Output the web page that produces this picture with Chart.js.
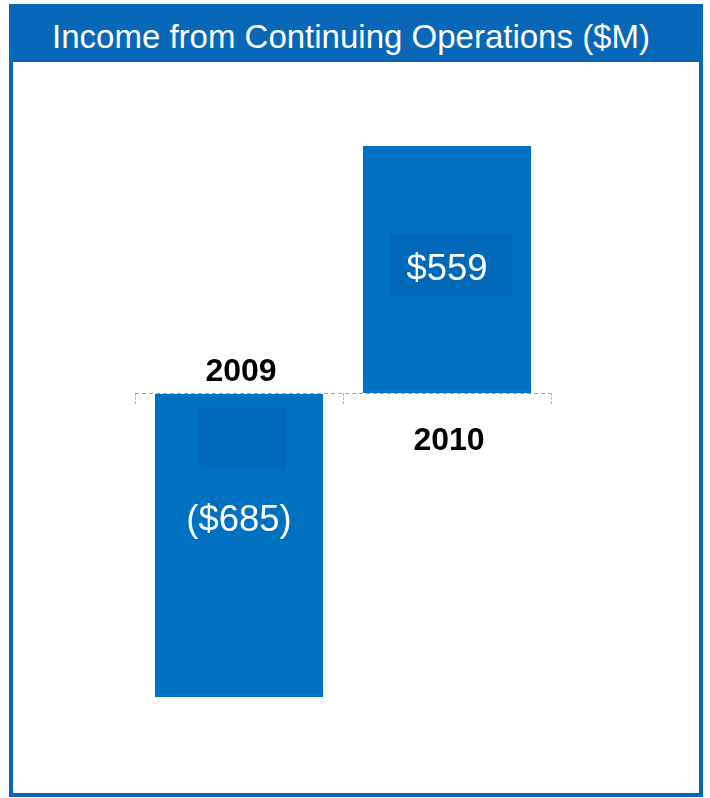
<!DOCTYPE html>
<html>
<head>
<meta charset="utf-8">
<script src="https://cdn.jsdelivr.net/npm/chart.js@4"></script>
<style>
  body { margin: 0; background: #fff; font-family: "Liberation Sans", Arial, sans-serif; }
  #wrap { position: relative; width: 710px; height: 798px; }
  #myChart { position: absolute; left: 0; top: 0; }
  #frame {
    position: absolute; left: 9px; top: 4px; width: 686px; height: 785px;
    border: 4px solid #0b67b4; pointer-events: none;
  }
  #title {
    position: absolute; left: -4px; top: -4px; width: 694px; height: 58px;
    background: #0868b7; color: #fff; font-size: 33px; line-height: 66px; text-align: center;
    text-indent: -10px; overflow: hidden;
  }
</style>
</head>
<body>
<div id="wrap">
  <canvas id="myChart" width="710" height="798"></canvas>
  <div id="frame"><div id="title">Income from Continuing Operations ($M)</div></div>
</div>
<script>
// chart data
var years = ['2009', '2010'];
var income = [-685, 559];
var valueLabels = ['($685)', '$559'];

var barColor = '#0070c0';

// draws the year labels, value labels and the little marks on the zero line
var labelPlugin = {
    id: 'labels',
    afterDatasetsDraw: function (chart) {
        var c = chart.ctx;
        var x = chart.scales.x;
        var y = chart.scales.y;
        var zero = y.getPixelForValue(0);
        var bars = chart.getDatasetMeta(0).data;

        c.save();
        // small vertical marks
        c.strokeStyle = '#a0a0a0';
        c.lineWidth = 1;
        c.setLineDash([2, 2]);
        var marks = [x.left, (x.getPixelForValue(0) + x.getPixelForValue(1)) / 2, x.right];
        marks.forEach(function (m) {
            c.beginPath();
            c.moveTo(Math.round(m) + 0.5, zero);
            c.lineTo(Math.round(m) + 0.5, zero + 10);
            c.stroke();
        });
        c.setLineDash([]);

        bars.forEach(function (bar, i) {
            var down = income[i] < 0;
            // faint darker patch inside the bar
            c.fillStyle = '#0068b8';
            if (down) {
                c.fillRect(bar.x - 40, zero + 15, 87, 60);
            } else {
                c.fillRect(bar.x - 57, zero - 160, 122, 62);
            }
            // value label
            c.fillStyle = '#ffffff';
            c.font = '36.5px "Liberation Sans", Arial, sans-serif';
            c.textAlign = 'center';
            c.textBaseline = 'middle';
            c.fillText(valueLabels[i], bar.x, down ? zero + 127 : zero - 124);
            // year label on the other side of the zero line
            c.fillStyle = '#000000';
            c.font = 'bold 32px "Liberation Sans", Arial, sans-serif';
            c.fillText(years[i], bar.x + 2, down ? zero - 21 : zero + 48);
        });
        c.restore();
    }
};

var ctx = document.getElementById('myChart').getContext('2d');
var myChart = new Chart(ctx, {
    type: 'bar',
    data: {
        labels: years,
        datasets: [
            {
                label: 'Income',
                data: income,
                backgroundColor: barColor,
                borderWidth: 0,
                categoryPercentage: 1,
                barPercentage: 0.808
            }
        ]
    },
    options: {
        responsive: false,
        animation: false,
        layout: {
            padding: { left: 135, right: 159, top: 146, bottom: 101 }
        },
        plugins: {
            legend: { display: false },
            tooltip: { enabled: false }
        },
        scales: {
            x: {
                display: false
            },
            y: {
                min: -685,
                max: 559,
                afterBuildTicks: function (s) { s.ticks = [{ value: 0 }]; },
                afterFit: function (s) { s.width = 0; },
                ticks: { display: false },
                border: { display: false, dash: [4, 3] },
                grid: {
                    drawTicks: false,
                    color: '#a0a0a0',
                    lineWidth: 1
                }
            }
        }
    },
    plugins: [labelPlugin]
});
</script>
</body>
</html>
